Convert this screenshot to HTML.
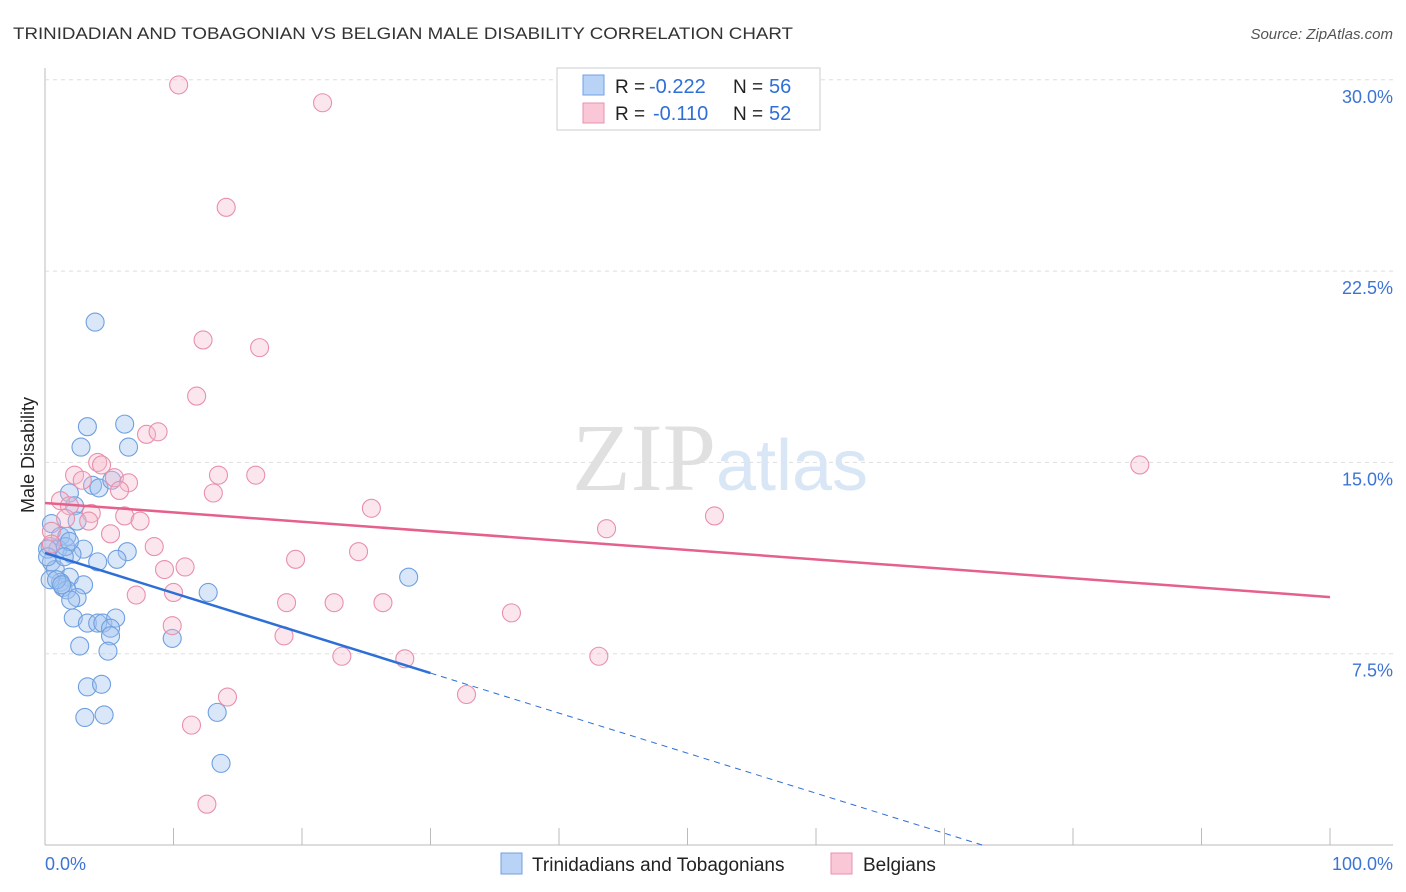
<!DOCTYPE html>
<html><head><meta charset="utf-8"><style>
body{margin:0;background:#fff;font-family:"Liberation Sans",sans-serif;}
svg{display:block}
</style></head><body>
<svg width="1406" height="892">
<text x="13" y="39" font-size="17" fill="#333" textLength="780" lengthAdjust="spacingAndGlyphs">TRINIDADIAN AND TOBAGONIAN VS BELGIAN MALE DISABILITY CORRELATION CHART</text>
<text x="1393" y="39" font-size="15" fill="#555" font-style="italic" text-anchor="end">Source: ZipAtlas.com</text>
<g id="grid"></g>
<text x="720" y="490" font-size="96" fill="#e4e4e4" text-anchor="middle" font-family="Liberation Serif,serif"><tspan fill="#e0e0e0">ZIP</tspan><tspan fill="#d9e6f5" font-family="Liberation Sans,sans-serif" font-size="72">atlas</tspan></text>
<g id="marks"></g>
<text transform="translate(34,455) rotate(-90)" font-size="18" fill="#222" text-anchor="middle">Male Disability</text>
<text x="45" y="870" font-size="18" fill="#3b74d4">0.0%</text>
<text x="1393" y="870" font-size="18" fill="#3b74d4" text-anchor="end">100.0%</text>
<g>
<rect x="557" y="68" width="263" height="62" fill="#fff" stroke="#ccc"/>
<rect x="583" y="75" width="21" height="20" fill="#b9d3f7" stroke="#6f9fe0"/>
<rect x="583" y="103" width="21" height="20" fill="#f9c7d6" stroke="#e890ac"/>
<text x="615" y="93" font-size="19" fill="#222">R =</text>
<text x="649" y="93" font-size="20" fill="#2f6fd6">-0.222</text>
<text x="733" y="93" font-size="19" fill="#222">N =</text>
<text x="769" y="93" font-size="20" fill="#2f6fd6">56</text>
<text x="615" y="120" font-size="19" fill="#222">R =</text>
<text x="653" y="120" font-size="20" fill="#2f6fd6">-0.110</text>
<text x="733" y="120" font-size="19" fill="#222">N =</text>
<text x="769" y="120" font-size="20" fill="#2f6fd6">52</text>
</g>
<g>
<rect x="501" y="853" width="21" height="21" fill="#b9d3f7" stroke="#6f9fe0"/>
<text x="532" y="871" font-size="19" fill="#222">Trinidadians and Tobagonians</text>
<rect x="831" y="853" width="21" height="21" fill="#f9c7d6" stroke="#e890ac"/>
<text x="863" y="871" font-size="19" fill="#222">Belgians</text>
</g>
</svg>
<script>
const yTicks=[7.5,15,22.5,30];
const yTickLabels=["7.5%","15.0%","22.5%","30.0%"];
const xTicks=[0,10,20,30,40,50,60,70,80,90,100];
const blueX=[3.9,6.2,3.3,2.8,6.5,1.9,3.7,4.2,5.2,2.3,2.5,0.5,1.2,1.7,0.4,1.0,3.0,6.4,2.1,5.6,4.1,0.5,0.8,1.9,1.2,3.0,1.4,1.7,2.5,12.7,28.3,2.0,2.2,3.3,4.1,4.5,5.5,5.1,5.1,9.9,2.7,4.9,3.3,4.4,3.1,4.6,13.4,13.7,0.2,0.2,0.4,0.9,1.3,1.6,1.9,1.5];
const blueY=[20.5,16.5,16.4,15.6,15.6,13.8,14.1,14.0,14.3,13.3,12.7,12.6,12.1,12.1,11.7,11.6,11.6,11.5,11.4,11.2,11.1,11.1,10.8,10.5,10.3,10.2,10.1,10.0,9.7,9.9,10.5,9.6,8.9,8.7,8.7,8.7,8.9,8.5,8.2,8.1,7.8,7.6,6.2,6.3,5.0,5.1,5.2,3.2,11.6,11.3,10.4,10.4,10.2,11.7,11.9,11.3];
const pinkX=[10.4,21.6,14.1,12.3,16.7,11.8,7.9,8.8,85.2,2.3,2.9,4.1,4.4,5.4,6.5,5.8,13.1,13.5,16.4,1.2,1.9,3.6,1.6,3.4,6.2,7.4,0.5,5.1,25.4,43.7,52.1,8.5,24.4,19.5,10.9,9.3,7.1,10.0,18.8,22.5,26.3,36.3,9.9,18.6,23.1,28.0,43.1,14.2,32.8,11.4,12.6,0.5];
const pinkY=[29.8,29.1,25.0,19.8,19.5,17.6,16.1,16.2,14.9,14.5,14.3,15.0,14.9,14.4,14.2,13.9,13.8,14.5,14.5,13.5,13.3,13.0,12.8,12.7,12.9,12.7,12.3,12.2,13.2,12.4,12.9,11.7,11.5,11.2,10.9,10.8,9.8,9.9,9.5,9.5,9.5,9.1,8.6,8.2,7.4,7.3,7.4,5.8,5.9,4.7,1.6,11.8];
const blueTrend=[11.45,6.74];
const pinkTrend=[13.41,9.72];
const NS="http://www.w3.org/2000/svg";
const X=v=>45+v*12.85, Y=v=>845-v*25.507;
function mk(t,a,p){const e=document.createElementNS(NS,t);for(const k in a)e.setAttribute(k,a[k]);p.appendChild(e);return e;}
const g=document.getElementById('grid'), m=document.getElementById('marks');
const ax=mk('line',{x1:45,y1:68,x2:45,y2:845,stroke:'#bbb'},g);


const bx=mk('line',{x1:45,y1:845,x2:1393,y2:845,stroke:'#bbb'},g);


yTicks.forEach((t,i)=>{
 const l=mk('line',{x1:45,y1:Y(t),x2:1393,y2:Y(t),stroke:'#ddd','stroke-dasharray':'4,4'},g);
 
 
 const tx=mk('text',{x:1393,y:Y(t)+23,'font-size':18,fill:'#3b74d4','text-anchor':'end'},g);
 tx.textContent=yTickLabels[i];
 
 
});
xTicks.forEach(t=>{
 const l=mk('line',{x1:X(t),y1:828,x2:X(t),y2:845,stroke:'#bbb'},g);
 
 
});
blueX.forEach((v,i)=>{
 const c=mk('circle',{cx:X(v),cy:Y(blueY[i]),r:9,fill:'rgba(160,196,240,0.4)',stroke:'#6f9fe0','stroke-width':1.1},m);
 
 
});
pinkX.forEach((v,i)=>{
 const c=mk('circle',{cx:X(v),cy:Y(pinkY[i]),r:9,fill:'rgba(246,182,202,0.35)',stroke:'#e890ac','stroke-width':1.1},m);
 
 
});
const bs=(blueTrend[1]-blueTrend[0])/30, bz=-blueTrend[0]/bs;
const bl=mk('line',{x1:X(0),y1:Y(blueTrend[0]),x2:X(30),y2:Y(blueTrend[1]),stroke:'#2d6fd6','stroke-width':2.5},m);


const bd=mk('line',{x1:X(30),y1:Y(blueTrend[1]),x2:X(bz),y2:Y(0),stroke:'#2d6fd6','stroke-width':1,'stroke-dasharray':'6,5'},m);


const pl=mk('line',{x1:X(0),y1:Y(pinkTrend[0]),x2:X(100),y2:Y(pinkTrend[1]),stroke:'#e5608a','stroke-width':2.5},m);


</script>
</body></html>
